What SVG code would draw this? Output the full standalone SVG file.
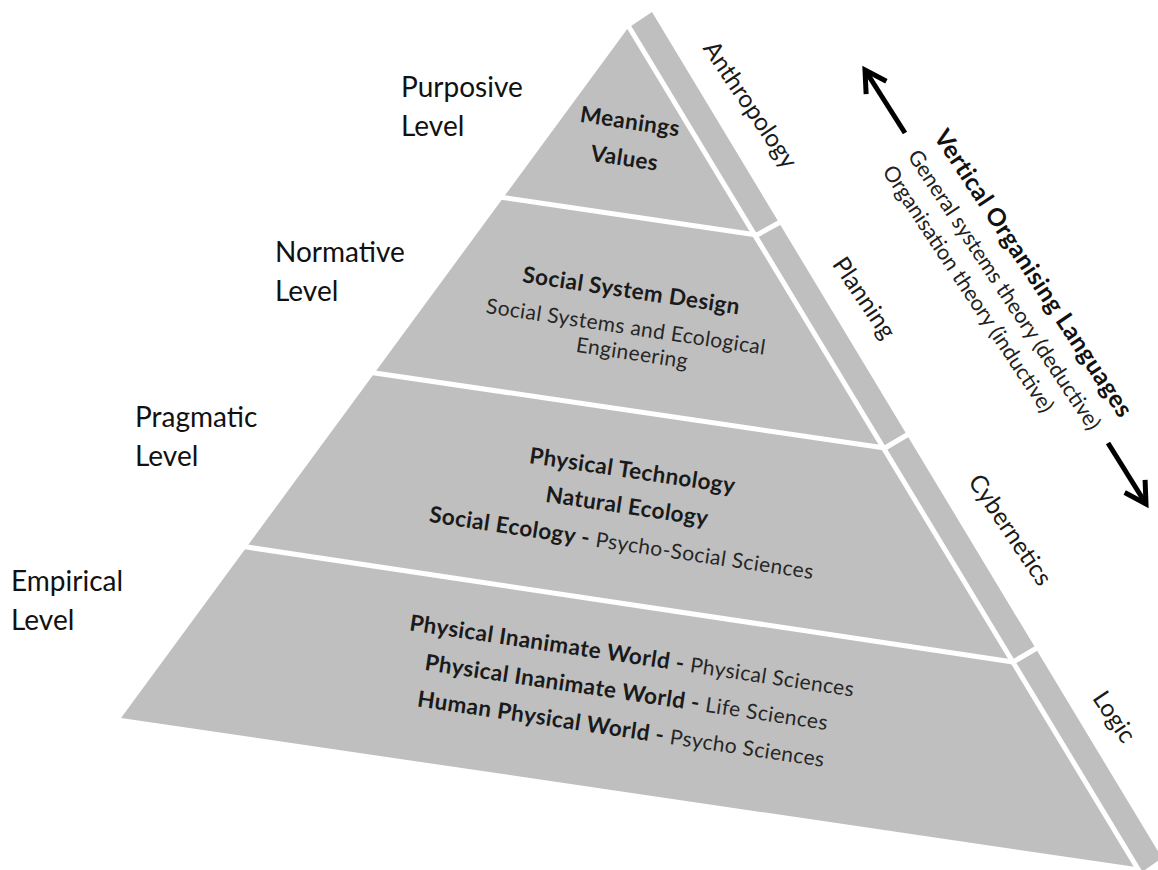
<svg xmlns="http://www.w3.org/2000/svg" width="1158" height="870" viewBox="0 0 1158 870">
<defs>
<style>
.face{fill:#bfbfbf;stroke:none}
.sep{stroke:#ffffff;stroke-width:5;fill:none}
.lvl{font-family:Lato,"Open Sans",sans-serif;font-size:28px;fill:#111}
.b{font-family:Lato,"Open Sans",sans-serif;font-size:22.5px;font-weight:bold;fill:#1a1a1a;letter-spacing:0.4px}
.r{font-family:Lato,"Open Sans",sans-serif;font-size:21px;font-weight:normal;fill:#262626;letter-spacing:0.4px}
.side{font-family:Lato,"Open Sans",sans-serif;font-size:24.5px;fill:#1a1a1a}
.ab{font-family:Lato,"Open Sans",sans-serif;font-size:24.5px;font-weight:bold;fill:#111;letter-spacing:0.4px}
.ar{font-family:Lato,"Open Sans",sans-serif;font-size:21.5px;fill:#222}
.arrow{stroke:#000;stroke-width:5;fill:none}
</style>
<marker id="head" viewBox="0 0 30 30" markerWidth="30" markerHeight="30" refX="24" refY="15" orient="auto" markerUnits="userSpaceOnUse">
<path d="M3,3 L24,15 L3,27" fill="none" stroke="#000" stroke-width="5"/>
</marker>
</defs>
<g id="pyramid">
<polygon class="face" points="121,718 628,28 652,12 1162,858 1142,872 1136,867"/>
<line class="sep" x1="626" y1="22" x2="1141" y2="874"/>
<line class="sep" x1="500" y1="197" x2="757" y2="235"/>
<line class="sep" x1="368" y1="372" x2="885" y2="448"/>
<line class="sep" x1="240" y1="546" x2="1013" y2="662"/>
<line class="sep" x1="757" y1="235" x2="784" y2="220"/>
<line class="sep" x1="885" y1="448" x2="912" y2="432"/>
<line class="sep" x1="1013" y1="662" x2="1042" y2="645"/>
</g>
<g id="level-purposive">
<text class="lvl" x="401" y="97">Purposive</text>
<text class="lvl" x="401" y="136">Level</text>
<g transform="rotate(8.5 627 142)">
<text class="b" x="627" y="129" text-anchor="middle">Meanings</text>
<text class="b" x="627" y="166" text-anchor="middle">Values</text>
</g>
</g>
<g id="level-normative">
<text class="lvl" x="275" y="262">Normative</text>
<text class="lvl" x="275" y="301">Level</text>
<g transform="rotate(8.5 627 320)">
<text class="b" x="627" y="298" text-anchor="middle">Social System Design</text>
<text class="r" x="627" y="334" text-anchor="middle">Social Systems and Ecological</text>
<text class="r" x="637" y="359" text-anchor="middle">Engineering</text>
</g>
</g>
<g id="level-pragmatic">
<text class="lvl" x="135" y="427">Pragmatic</text>
<text class="lvl" x="135" y="466">Level</text>
<g transform="rotate(8.5 627 507)">
<text class="b" x="627" y="478" text-anchor="middle">Physical Technology</text>
<text class="b" x="627" y="514" text-anchor="middle">Natural Ecology</text>
<text x="627" y="551" text-anchor="middle"><tspan class="b">Social Ecology - </tspan><tspan class="r">Psycho-Social Sciences</tspan></text>
</g>
</g>
<g id="level-empirical">
<text class="lvl" x="11" y="591">Empirical</text>
<text class="lvl" x="11" y="630">Level</text>
<g transform="rotate(8.5 626 696)">
<text x="626" y="663" text-anchor="middle"><tspan class="b">Physical Inanimate World - </tspan><tspan class="r">Physical Sciences</tspan></text>
<text x="626" y="700" text-anchor="middle"><tspan class="b">Physical Inanimate World - </tspan><tspan class="r">Life Sciences</tspan></text>
<text x="626" y="737" text-anchor="middle"><tspan class="b">Human Physical World - </tspan><tspan class="r">Psycho Sciences</tspan></text>
</g>
</g>
<g id="side-labels">
<text class="side" x="750" y="113" text-anchor="middle" transform="rotate(56 750 105)">Anthropology</text>
<text class="side" x="864" y="306" text-anchor="middle" transform="rotate(56 864 298)">Planning</text>
<text class="side" x="1010" y="538" text-anchor="middle" transform="rotate(56 1010 530)">Cybernetics</text>
<text class="side" x="1114" y="725" text-anchor="middle" transform="rotate(56 1114 717)">Logic</text>
</g>
<g id="annotation">
<text class="ab" x="1034" y="282" text-anchor="middle" transform="rotate(56.5 1034 273)">Vertical Organising Languages</text>
<text class="ar" x="1004" y="297" text-anchor="middle" transform="rotate(56.5 1004 290)">General systems theory (deductive)</text>
<text class="ar" x="968" y="296" text-anchor="middle" transform="rotate(56.5 968 289)">Organisation theory (inductive)</text>
</g>
<g id="connectors">
<line class="arrow" x1="905" y1="133" x2="865" y2="70" marker-end="url(#head)"/>
<line class="arrow" x1="1108" y1="443" x2="1146" y2="504" marker-end="url(#head)"/>
</g>
</svg>
